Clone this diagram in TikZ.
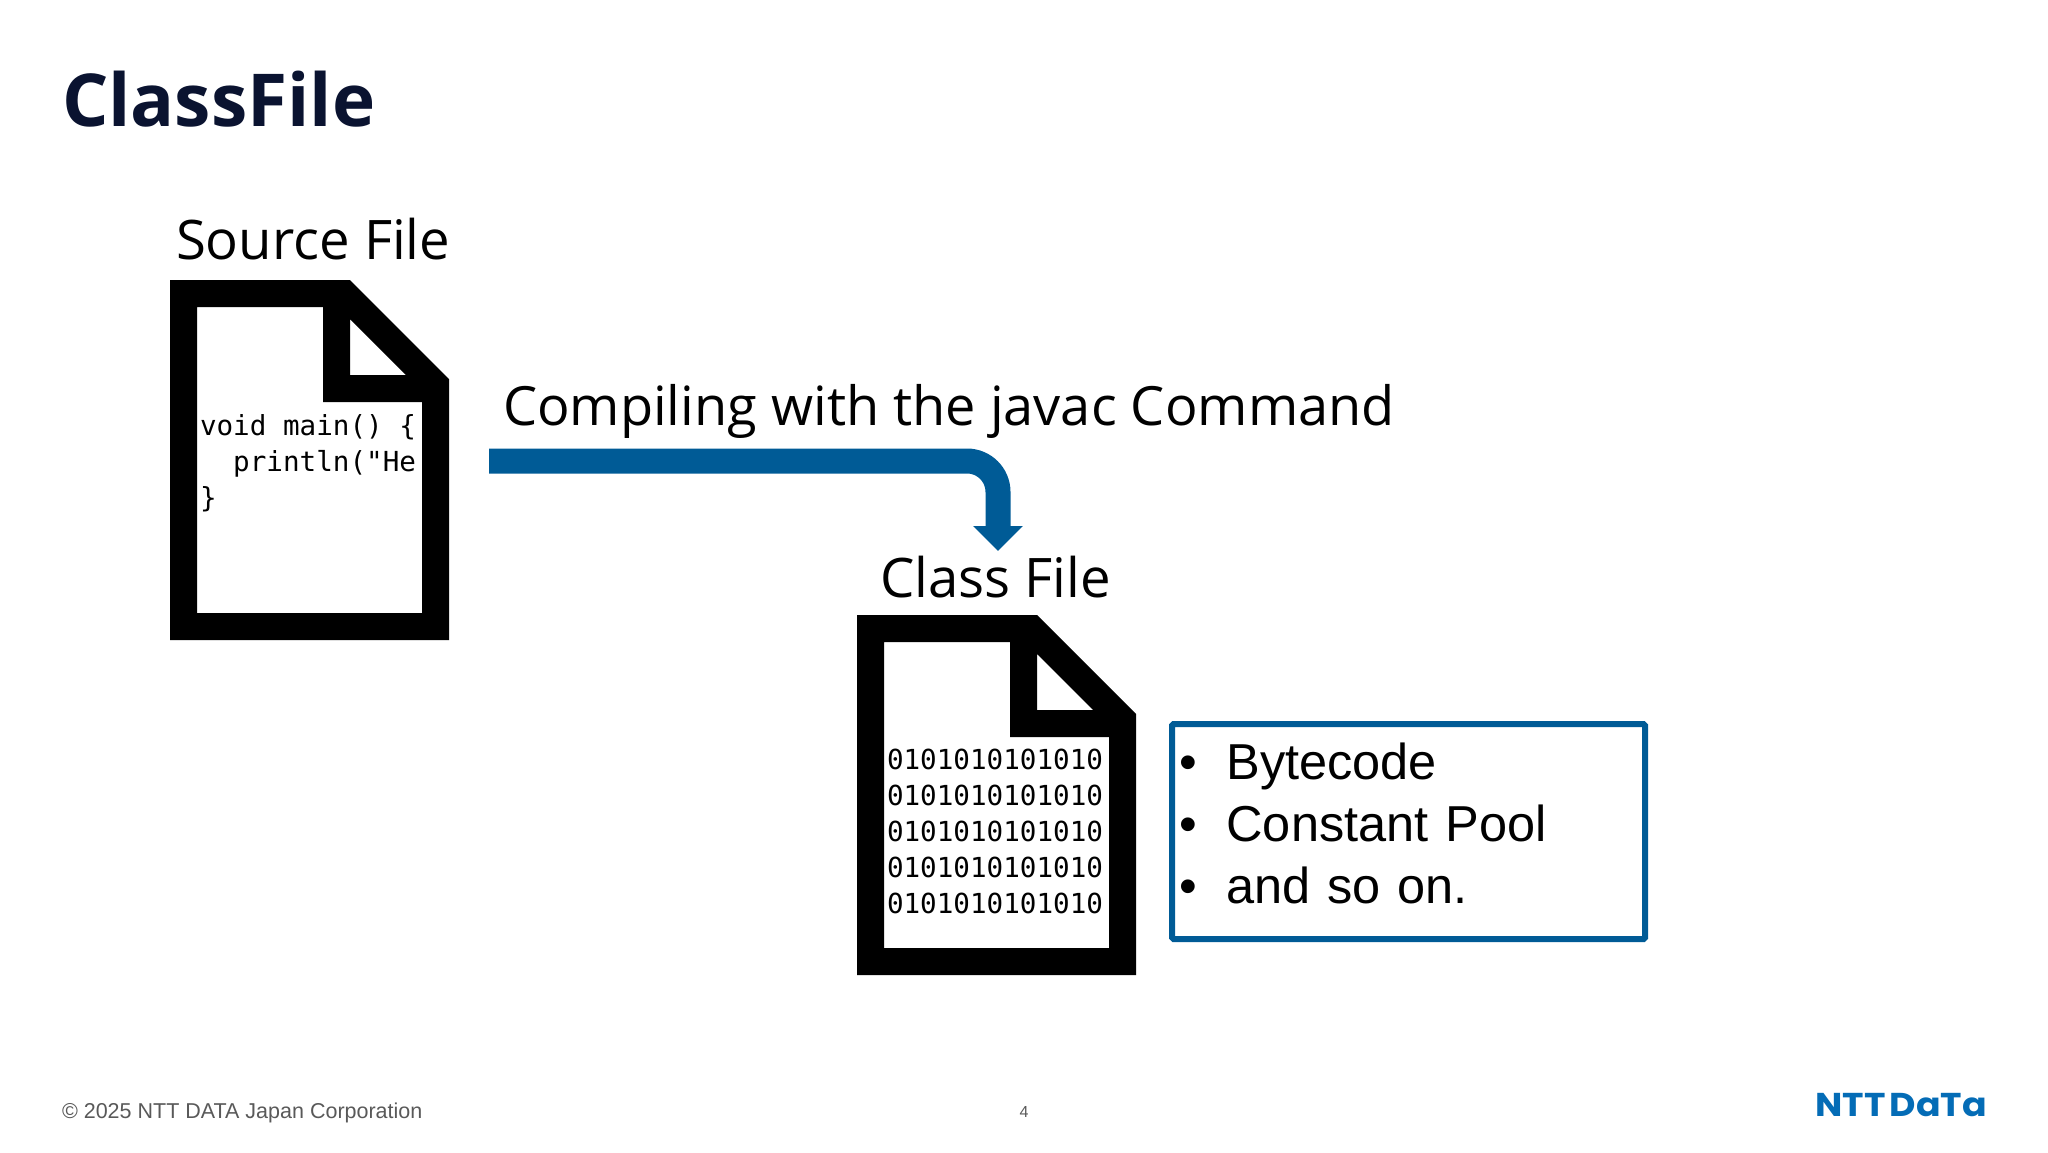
\documentclass[tikz,border=0pt]{standalone}
\usepackage{fontspec}
\setmainfont{Open Sans}
\newfontfamily\arialfont{Liberation Sans}
\newfontfamily\codefont{DejaVu Sans Mono}
\newfontfamily\logofont{Poppins}
\usetikzlibrary{arrows.meta}
\definecolor{nttblue}{RGB}{0,91,150}
\definecolor{logoblue}{RGB}{4,108,182}
\definecolor{titlenavy}{RGB}{10,19,48}
\definecolor{footgray}{RGB}{89,89,89}
\tikzset{
  x=1pt,y=-1pt,
  every node/.style={inner sep=0pt,outer sep=0pt},
  filelabel/.style={anchor=base west,font=\fontsize{54.5}{62}\selectfont},
  codetext/.style={anchor=north west,align=left,font=\codefont\fontsize{27.6}{36}\selectfont},
  footnote/.style={anchor=base west,text=footgray,font=\arialfont\fontsize{21.5}{26}\selectfont},
  fileicon/.pic={
    \fill[black,even odd rule]
      (0,0) -- (180,0) -- (279,99) -- (279,360) -- (0,360) -- cycle
      (27,27) -- (153,27) -- (153,122) -- (252,122) -- (252,333) -- (27,333) -- cycle
      (180,39) -- (180,95) -- (236,95) -- cycle;
  }
}
\begin{document}
\begin{tikzpicture}
\useasboundingbox (0,0) rectangle (2048,1152);
\node[anchor=base west,text=titlenavy,font=\bfseries\fontsize{73}{84}\selectfont] (title) at (62,126) {ClassFile};
\node[filelabel] (sourcelabel) at (176,259) {Source File};
\pic at (170,280) {fileicon};
\node[codetext] (sourcecode) at (200,415) {void main() \{\\\ \ println("He\\\}};
\node[filelabel,font=\fontsize{54.1}{62}\selectfont] (compilelabel) at (503,425) {Compiling with the javac Command};
\coordinate (arrowstart) at (489,461);
\coordinate (arrowend) at (998,551);
\draw[nttblue,line width=25pt,rounded corners=31pt,-{Triangle[width=48pt,length=25pt]}] (arrowstart) -| (arrowend);
\node[filelabel] (classlabel) at (880,597) {Class File};
\pic at (857,615) {fileicon};
\node[codetext] (classcode) at (887,749) {0101010101010\\0101010101010\\0101010101010\\0101010101010\\0101010101010};
\node[draw=nttblue,line width=6pt,rounded corners=1.5pt,anchor=north west,minimum width=473pt,minimum height=215pt,
  text width=458pt,align=left,font=\arialfont\fontsize{50.5}{62}\selectfont] (infobox) at (1172,724)
  {\makebox[47pt][l]{\textbullet}Bytecode\\\makebox[47pt][l]{\textbullet}Constant Pool\\\makebox[47pt][l]{\textbullet}and so on.\rule[-16pt]{0pt}{16pt}};
\node[footnote] (copyright) at (62,1118) {© 2025 NTT DATA Japan Corporation};
\node[footnote,anchor=base,font=\arialfont\fontsize{16}{18}\selectfont] (pagenum) at (1024,1117) {4};
\node[anchor=base east,text=logoblue,xscale=1.1,transform shape,font=\logofont\bfseries\fontsize{33}{40}\selectfont] (logo) at (1987,1116) {NTT\hspace{-3pt} DaTa};
\end{tikzpicture}
\end{document}
